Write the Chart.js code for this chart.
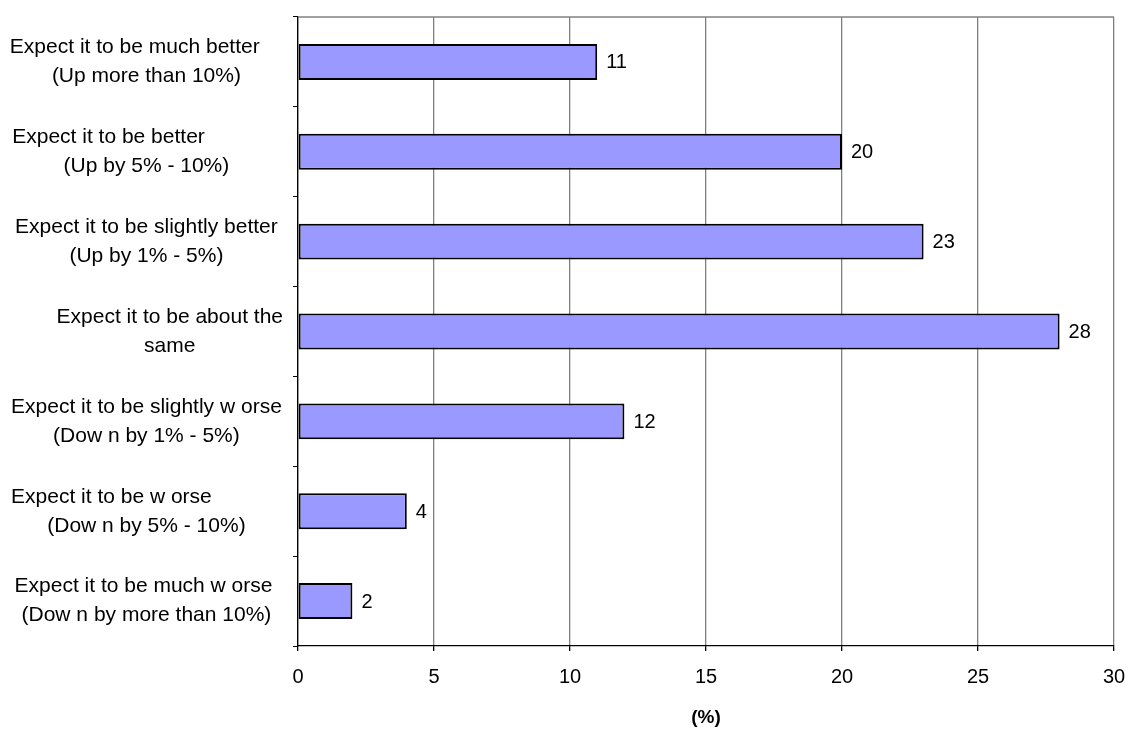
<!DOCTYPE html>
<html><head><meta charset="utf-8">
<script src="https://cdn.jsdelivr.net/npm/chart.js@4"></script>
<style>html,body{margin:0;padding:0;background:#fff}</style>
</head><body>
<canvas id="c" width="1129" height="729"></canvas>
<script>
const categories = [
  ["Expect it to be much better    ", "(Up more than 10%)"],
  ["Expect it to be better             ", "(Up by 5% - 10%)"],
  ["Expect it to be slightly better", "(Up by 1% - 5%)"],
  ["        Expect it to be about the", "        same"],
  ["Expect it to be slightly w orse", "(Dow n by 1% - 5%)"],
  ["Expect it to be w orse            ", "(Dow n by 5% - 10%)"],
  ["Expect it to be much w orse ", "(Dow n by more than 10%)"]
];
const values = [11, 20, 23, 28, 12, 4, 2];
const xTicks = [0, 5, 10, 15, 20, 25, 30];
const axisTitle = "(%)";

const FONT = "'Liberation Sans', Arial, sans-serif";

const frame = {
  id: 'frame',
  beforeDatasetsDraw(chart) {
    const {ctx, chartArea: a} = chart;
    ctx.save();
    ctx.strokeStyle = '#808080';
    ctx.lineWidth = 1.3;
    ctx.beginPath();
    ctx.moveTo(a.left, a.top);
    ctx.lineTo(a.right, a.top);
    ctx.stroke();
    ctx.restore();
  }
};

const valueLabels = {
  id: 'valueLabels',
  afterDatasetsDraw(chart) {
    const ctx = chart.ctx;
    const meta = chart.getDatasetMeta(0);
    ctx.save();
    ctx.font = '20px ' + FONT;
    ctx.fillStyle = '#000';
    ctx.textAlign = 'left';
    ctx.textBaseline = 'middle';
    meta.data.forEach((bar, i) => {
      ctx.fillText(String(values[i]), bar.x + 9, bar.y + 1);
    });
    ctx.restore();
  }
};

new Chart(document.getElementById('c'), {
  type: 'bar',
  data: {
    labels: categories,
    datasets: [{
      data: values,
      backgroundColor: '#9999FF',
      borderColor: '#000',
      borderWidth: 2,
      borderSkipped: false,
      barPercentage: 0.4,
      categoryPercentage: 1
    }]
  },
  options: {
    indexAxis: 'y',
    responsive: false,
    animation: false,
    devicePixelRatio: 1,
    layout: {padding: {top: 17, right: 15, left: 0, bottom: 0}},
    plugins: {legend: {display: false}, tooltip: {enabled: false}},
    scales: {
      x: {
        min: 0, max: 30,
        afterBuildTicks(s) { s.ticks = xTicks.map(v => ({value: v})); },
        ticks: {font: {size: 20, family: FONT}, color: '#000', padding: 14, maxRotation: 0},
        grid: {color: '#808080', tickColor: '#000', tickLength: 5, lineWidth: 1.3},
        border: {color: '#000', width: 1.3},
        title: {display: true, text: axisTitle, color: '#000', padding: {top: 4, bottom: 0}, font: {size: 19, weight: 'bold', family: FONT}},
        afterFit(s) { s.height = 83; s.paddingLeft = 0; s.paddingRight = 0; }
      },
      y: {
        grid: {drawOnChartArea: false, tickLength: 5, tickColor: '#000', offset: true},
        border: {color: '#000', width: 1.3},
        ticks: {crossAlign: 'center', padding: 10, color: '#000', font: {size: 21, family: FONT, lineHeight: 1.38}},
        afterFit(s) { s.width = 298; s.paddingTop = 0; s.paddingBottom = 0; }
      }
    }
  },
  plugins: [frame, valueLabels]
});
</script>
</body></html>
